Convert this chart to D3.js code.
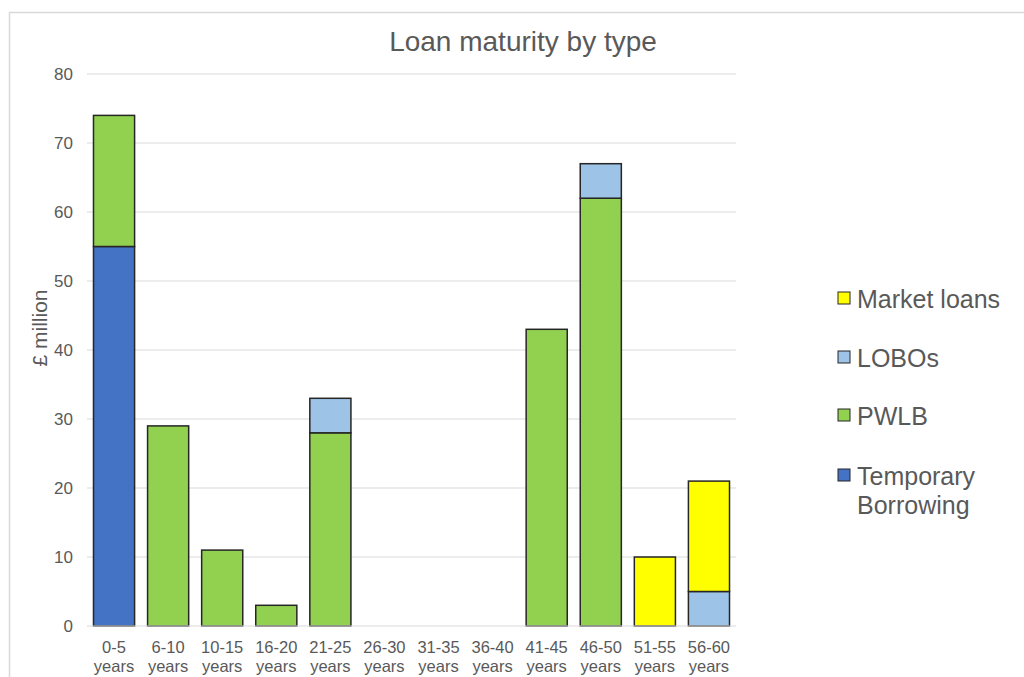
<!DOCTYPE html>
<html>
<head>
<meta charset="utf-8">
<script src="https://cdn.jsdelivr.net/npm/d3@7"></script>
<style>
  body { margin: 0; background: #fff; }
  svg { display: block; font-family: "Liberation Sans", Arial, sans-serif; }
</style>
</head>
<body>
<svg id="chart" width="1024" height="677"></svg>
<script>
// Maturity buckets and amounts (£ million) per loan type
const categories = ["0-5", "6-10", "10-15", "16-20", "21-25", "26-30", "31-35", "36-40", "41-45", "46-50", "51-55", "56-60"];
const temporaryBorrowing = [55, 0, 0, 0, 0, 0, 0, 0, 0, 0, 0, 0];
const pwlb               = [19, 29, 11, 3, 28, 0, 0, 0, 43, 62, 0, 0];
const lobos              = [0, 0, 0, 0, 5, 0, 0, 0, 0, 5, 0, 5];
const marketLoans        = [0, 0, 0, 0, 0, 0, 0, 0, 0, 0, 10, 16];
const yTicks = [0, 10, 20, 30, 40, 50, 60, 70, 80];

const seriesKeys = ["Temporary Borrowing", "PWLB", "LOBOs", "Market loans"];
const seriesColors = {
  "Temporary Borrowing": "#4472c4",
  "PWLB": "#92d050",
  "LOBOs": "#9dc3e6",
  "Market loans": "#ffff00"
};

const rows = categories.map((c, i) => ({
  cat: c,
  "Temporary Borrowing": temporaryBorrowing[i],
  "PWLB": pwlb[i],
  "LOBOs": lobos[i],
  "Market loans": marketLoans[i]
}));

const svg = d3.select("#chart");

// outer frame
svg.append("path")
  .attr("d", "M9.5,677 L9.5,12.5 L1024,12.5")
  .attr("fill", "none")
  .attr("stroke", "#d9d9d9")
  .attr("stroke-width", 1.5);

const plot = { left: 87, right: 736, top: 74, bottom: 626 };

const x = d3.scaleBand().domain(categories).range([plot.left, plot.right]).paddingInner(0.24).paddingOuter(0.12);
const y = d3.scaleLinear().domain([0, 80]).range([plot.bottom, plot.top]);

// gridlines
svg.append("g").selectAll("line").data(yTicks.filter(t => t > 0)).join("line")
  .attr("x1", plot.left).attr("x2", plot.right)
  .attr("y1", d => y(d)).attr("y2", d => y(d))
  .attr("stroke", "#d9d9d9").attr("stroke-width", 1);

// y axis labels
const yAxis = d3.axisLeft(y).tickValues(yTicks).tickSize(0).tickPadding(14);
svg.append("g").attr("transform", `translate(${plot.left},0)`).call(yAxis)
  .call(g => g.select(".domain").remove())
  .call(g => g.selectAll("text").attr("fill", "#595959").attr("font-size", 17)
    .attr("font-family", "Liberation Sans, Arial, sans-serif"));

// stacked bars
const stack = d3.stack().keys(seriesKeys);
const layers = stack(rows);
svg.append("g").selectAll("g").data(layers).join("g")
  .attr("fill", d => seriesColors[d.key])
  .selectAll("rect").data(d => d.filter(s => s[1] - s[0] > 0)).join("rect")
  .attr("x", d => x(d.data.cat))
  .attr("width", x.bandwidth())
  .attr("y", d => y(d[1]))
  .attr("height", d => y(d[0]) - y(d[1]))
  .attr("stroke", "#262626")
  .attr("stroke-width", 1.5);

// baseline
svg.append("line")
  .attr("x1", plot.left).attr("x2", plot.right)
  .attr("y1", y(0)).attr("y2", y(0))
  .attr("stroke", "#d9d9d9").attr("stroke-width", 1);

// x axis labels (two lines)
const xl = svg.append("g").selectAll("text").data(categories).join("text")
  .attr("x", d => x(d) + x.bandwidth() / 2)
  .attr("text-anchor", "middle")
  .attr("fill", "#595959")
  .attr("font-size", 16.5);
xl.append("tspan").attr("x", d => x(d) + x.bandwidth() / 2).attr("y", 653).text(d => d);
xl.append("tspan").attr("x", d => x(d) + x.bandwidth() / 2).attr("y", 672).text("years");

// y axis title
svg.append("text")
  .attr("transform", "translate(47,328) rotate(-90)")
  .attr("text-anchor", "middle")
  .attr("fill", "#595959")
  .attr("font-size", 21)
  .text("£ million");

// chart title
svg.append("text")
  .attr("x", 523).attr("y", 51)
  .attr("text-anchor", "middle")
  .attr("fill", "#595959")
  .attr("font-size", 28)
  .text("Loan maturity by type");

// legend
const legendItems = [
  { key: "Market loans", lines: ["Market loans"], y: 299 },
  { key: "LOBOs", lines: ["LOBOs"], y: 358 },
  { key: "PWLB", lines: ["PWLB"], y: 416 },
  { key: "Temporary Borrowing", lines: ["Temporary", "Borrowing"], y: 476 }
];
const lg = svg.append("g").selectAll("g").data(legendItems).join("g");
lg.append("rect")
  .attr("x", 838).attr("y", d => d.y - 7)
  .attr("width", 12).attr("height", 12)
  .attr("fill", d => seriesColors[d.key])
  .attr("stroke", "#262626").attr("stroke-width", 1);
lg.each(function(d) {
  const t = d3.select(this).append("text")
    .attr("fill", "#595959").attr("font-size", 25);
  d.lines.forEach((ln, i) => {
    t.append("tspan").attr("x", 857).attr("y", d.y + 9 + i * 29).text(ln);
  });
});
</script>
</body>
</html>
